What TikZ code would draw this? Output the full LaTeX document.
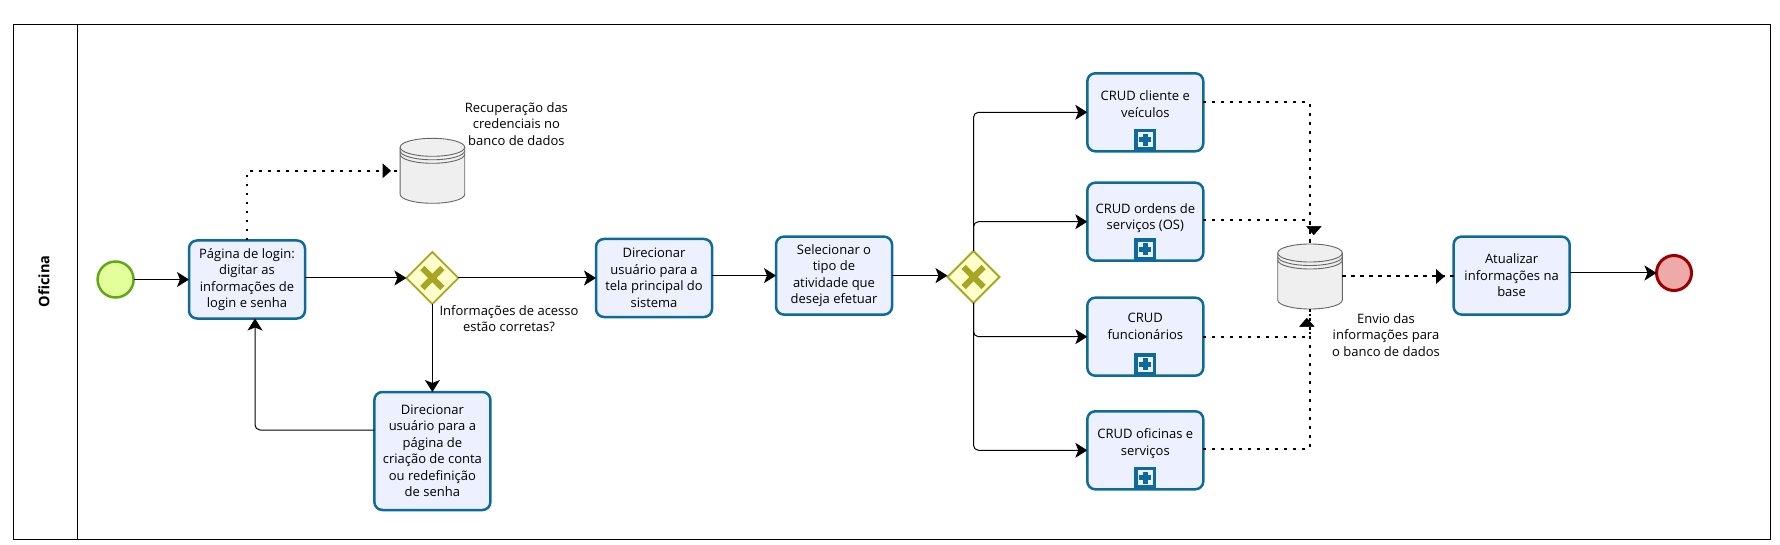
\documentclass[tikz,border=0pt]{standalone}
\usepackage{fontspec}
\setmainfont{Open Sans}
\usetikzlibrary{arrows.meta,shapes.geometric,decorations.markings}
\definecolor{TaskFill}{HTML}{ECF0FF}
\definecolor{TaskLine}{HTML}{0F6A9C}
\definecolor{GateFill}{HTML}{FFFFCC}
\definecolor{GateLine}{HTML}{A6A622}
\definecolor{StartFill}{HTML}{E3FF9B}
\definecolor{StartLine}{HTML}{62A716}
\definecolor{EndFill}{HTML}{EEA9A9}
\definecolor{EndLine}{HTML}{990000}
\definecolor{StoreFill}{HTML}{EFEFEF}
\definecolor{StoreLine}{HTML}{666666}
\tikzset{
    task/.style = {draw=TaskLine, fill=TaskFill, line width=2.5pt, rounded corners=8pt, minimum width=116pt, minimum height=78pt, inner sep=0pt, outer sep=0pt, align=center},
    crud/.style = {task, append after command={node[plusbox, name=\tikzlastnode Plus] at ([yshift=11.5pt]\tikzlastnode.south) {}}},
    plusbox/.style = {fill=TaskLine, minimum size=22pt, inner sep=0pt, outer sep=0pt, path picture={
        \fill[TaskFill] ([shift={(-7.5pt,-7.5pt)}]path picture bounding box.center) rectangle ([shift={(7.5pt,7.5pt)}]path picture bounding box.center);
        \fill[TaskLine] ([shift={(-2.5pt,-6pt)}]path picture bounding box.center) rectangle ([shift={(2.5pt,6pt)}]path picture bounding box.center);
        \fill[TaskLine] ([shift={(-6pt,-2.5pt)}]path picture bounding box.center) rectangle ([shift={(6pt,2.5pt)}]path picture bounding box.center);
    }},
    gate/.style = {diamond, draw=GateLine, fill=GateFill, line width=1.8pt, minimum width=52pt, minimum height=52pt, inner sep=0pt, outer sep=0pt, path picture={
        \draw[GateLine, line width=6pt] ([shift={(-10pt,-10pt)}]path picture bounding box.center) -- ([shift={(10pt,10pt)}]path picture bounding box.center);
        \draw[GateLine, line width=6pt] ([shift={(-10pt,10pt)}]path picture bounding box.center) -- ([shift={(10pt,-10pt)}]path picture bounding box.center);
    }},
    start/.style = {circle, draw=StartLine, fill=StartFill, line width=2.5pt, minimum size=36pt, inner sep=0pt, outer sep=0pt},
    finish/.style = {circle, draw=EndLine, fill=EndFill, line width=3pt, minimum size=35pt, inner sep=0pt, outer sep=0pt},
    datastore/.style = {minimum width=64.6pt, minimum height=65pt, inner sep=0pt, outer sep=0pt},
    note/.style = {align=center, inner sep=0pt},
    dataflow/.style 2 args = {line width=2.2pt, dash pattern=on 2.5pt off 6.5pt, rounded corners=2pt, postaction={decorate}, decoration={markings, mark=at position -#1 with {\pgftransformyshift{#2}\arrow[solid]{Triangle[length=8.6pt,width=14.5pt]}}}},
}
\newcommand{\drawstore}[1]{
    \draw[StoreLine, line width=.9pt, fill=StoreFill] ([yshift=-9pt]#1.north west) -- ([yshift=9pt]#1.south west) arc[start angle=180, end angle=360, x radius=32.3pt, y radius=9pt] -- ([yshift=-9pt]#1.north east) arc[start angle=0, end angle=180, x radius=32.3pt, y radius=9pt] -- cycle;
    \foreach \dy in {9,12.5,16} {
        \draw[StoreLine, line width=.9pt] ([yshift=-\dy pt]#1.north west) arc[start angle=180, end angle=360, x radius=32.3pt, y radius=9pt];
    }
}
\begin{document}
\begin{tikzpicture}[x=1pt, y=1pt, font=\fontsize{13}{16.5}\selectfont, >={Stealth[length=12pt,width=15pt,inset=3pt]}, line width=1pt]
    \useasboundingbox (0,0) rectangle (1780,-545);

    \node (Pool) [draw, line width=1pt, minimum width=1757pt, minimum height=515.2pt, inner sep=0pt, outer sep=0pt] at (892,-281.9) {};
    \node (PoolName) [rotate=90, font=\fontsize{14.5}{16}\selectfont\bfseries] at (44,-281.5) {Oficina};

    \node (Start) [start] at (115.6,-279.5) {};
    \node (Login) [task, node distance = 131.4pt, right of = Start] {Página de login:\\digitar as\\informações de\\login e senha};
    \node (LoginGate) [gate, node distance = 185.4pt, right of = Login, yshift=1.5pt] {};
    \node (CredStore) [datastore, node distance = 107.2pt, above of = LoginGate] {};
    \node (CredNote) [note, node distance = 84pt, right of = CredStore, yshift=46.8pt] {Recuperação das\\credenciais no\\banco de dados};
    \node (GateNote) [note, node distance = 76.6pt, right of = LoginGate, yshift=-40.4pt] {Informações de acesso\\estão corretas?};
    \node (Signup) [task, minimum height=118pt, node distance = 173pt, below of = LoginGate] {Direcionar\\usuário para a\\página de\\criação de conta\\ou redefinição\\de senha};
    \node (MainPage) [task, node distance = 221.6pt, right of = LoginGate] {Direcionar\\usuário para a\\tela principal do\\sistema};
    \node (Choose) [task, node distance = 180pt, right of = MainPage, yshift=2.4pt] {Selecionar o\\tipo de\\atividade que\\deseja efetuar};
    \node (CrudGate) [gate, node distance = 139.5pt, right of = Choose, yshift=-1.4pt] {};
    \node (CrudClient) [crud, node distance = 171.8pt, right of = CrudGate, yshift=164.7pt] {CRUD cliente e\\veículos\\~};
    \node (CrudOrders) [crud, node distance = 109.4pt, below of = CrudClient] {CRUD ordens de\\serviços (OS)\\[-6pt]~};
    \node (CrudStaff) [crud, node distance = 115pt, below of = CrudOrders] {CRUD\\funcionários\\[4pt]~};
    \node (CrudShops) [crud, node distance = 113.6pt, below of = CrudStaff] {CRUD oficinas e\\serviços\\~};
    \node (BaseStore) [datastore, node distance = 336.5pt, right of = CrudGate, yshift=.5pt] {};
    \node (BaseNote) [note, node distance = 76pt, right of = BaseStore, yshift=-58.4pt] {Envio das\\informações para\\o banco de dados};
    \node (Update) [task, node distance = 201.6pt, right of = BaseStore, yshift=.9pt] {Atualizar\\informações na\\base};
    \node (End) [finish, node distance = 162.4pt, right of = Update, yshift=2.6pt] {};

    \draw ([xshift=63.9pt]Pool.north west) -- ([xshift=63.9pt]Pool.south west);
    \drawstore{CredStore}
    \drawstore{BaseStore}

    \draw[->] (Start) -- (Login);
    \draw[->] (Login.east |- LoginGate) -- (LoginGate);
    \draw[->] (LoginGate) -- (MainPage);
    \draw[->] (LoginGate) -- (Signup);
    \draw[->, rounded corners=5pt] ([yshift=21pt]Signup.west) -| ([xshift=8pt]Login.south);
    \draw[->] (MainPage.east |- Choose) -- (Choose);
    \draw[->] (Choose) -- (Choose -| CrudGate.west);
    \draw[->, rounded corners=5pt] (CrudGate.north) |- (CrudClient);
    \draw[->, rounded corners=5pt] (CrudGate.north) |- (CrudOrders);
    \draw[->, rounded corners=5pt] (CrudGate.south) |- (CrudStaff);
    \draw[->, rounded corners=5pt] (CrudGate.south) |- (CrudShops);
    \draw[->] (Update.east |- End) -- (End);

    \draw[dataflow={9pt}{0pt}] (Login.north) |- (CredStore);
    \draw[dataflow={9pt}{3.8pt}] ([yshift=10.5pt]CrudClient.east) -| (BaseStore.north);
    \draw[dataflow={9pt}{3.8pt}] ([yshift=1.3pt]CrudOrders.east) -| (BaseStore.north);
    \draw[dataflow={9pt}{3.2pt}] (CrudStaff.east) -| (BaseStore.south);
    \draw[dataflow={9pt}{3.2pt}] ([yshift=1.4pt]CrudShops.east) -| (BaseStore.south);
    \draw[dataflow={9pt}{0pt}, line width=2pt, dash pattern=on 4pt off 5pt] (BaseStore) -- (BaseStore -| Update.west);
\end{tikzpicture}
\end{document}
